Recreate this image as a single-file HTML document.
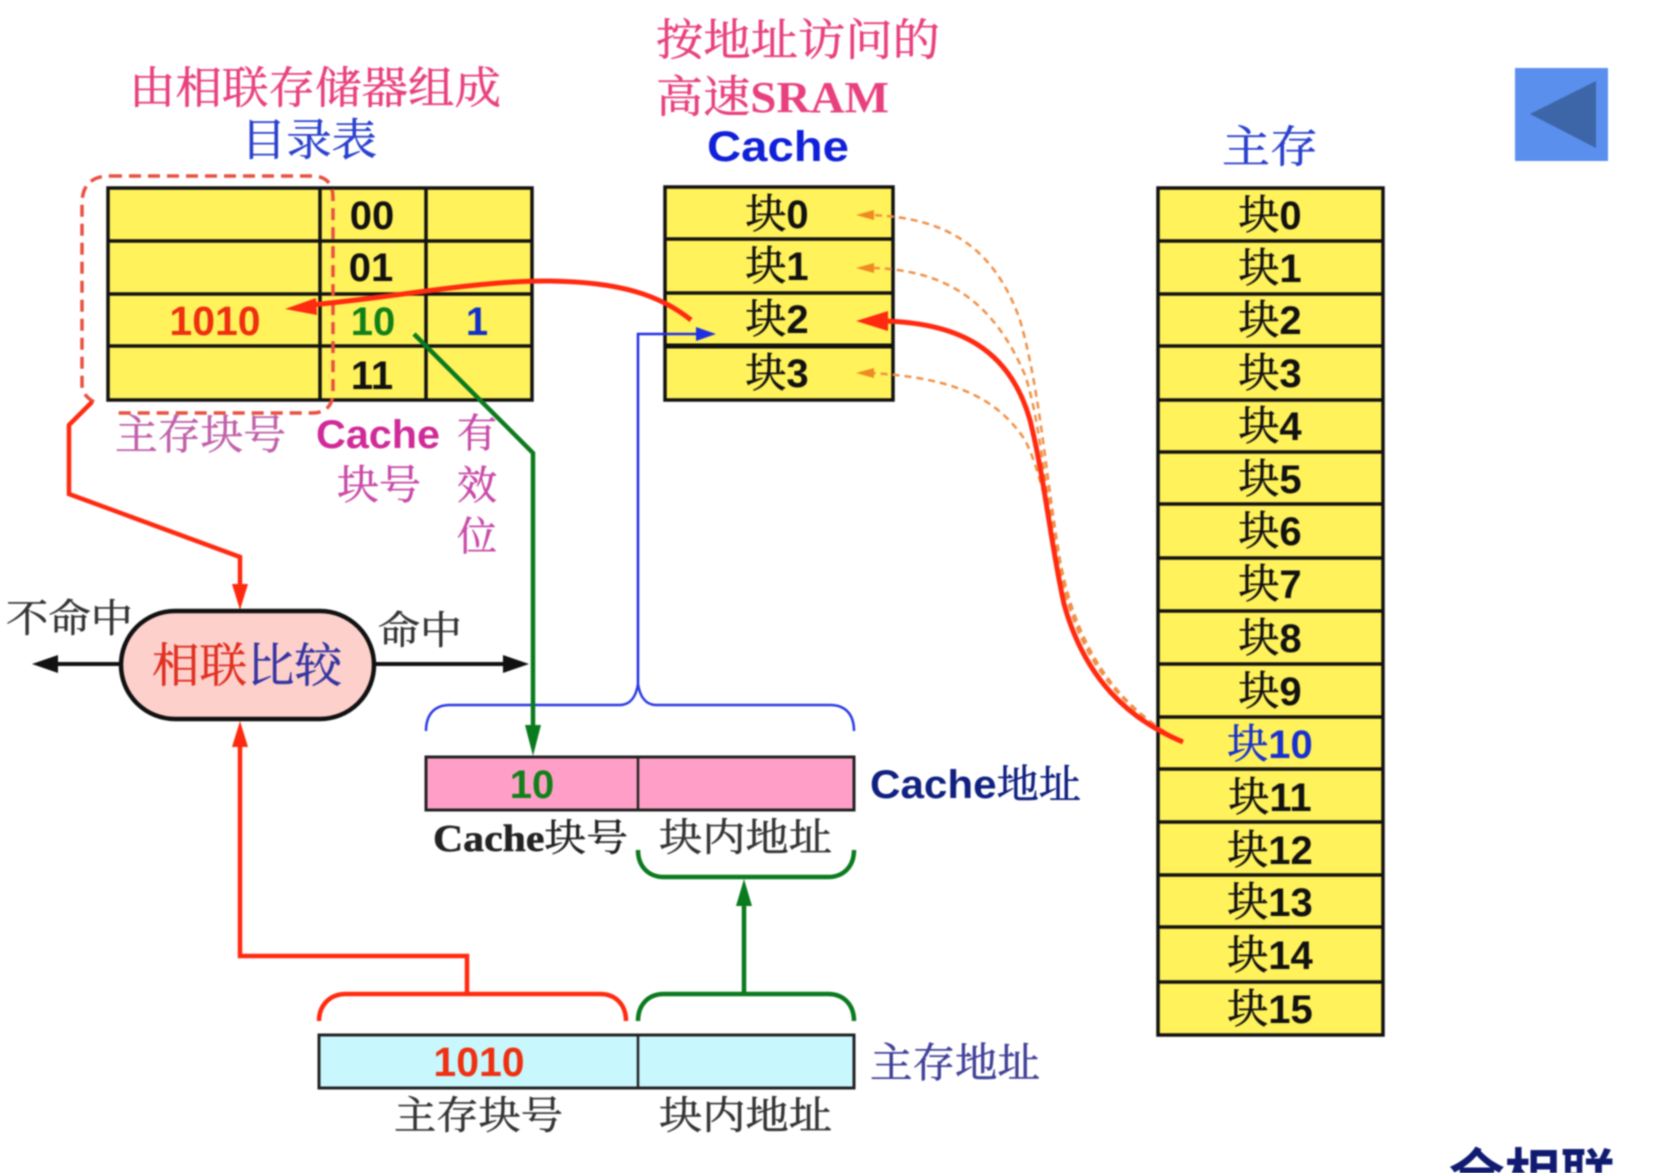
<!DOCTYPE html>
<html lang="zh"><head><meta charset="utf-8"><title>全相联</title>
<style>
html,body{margin:0;padding:0;background:#fff;width:1654px;height:1173px;overflow:hidden}
svg{display:block;filter:blur(.7px)}
.s{font-family:"Liberation Serif","Noto Serif CJK SC",serif;stroke-width:.5}
.h{font-family:"Liberation Sans","Noto Sans CJK SC",sans-serif;font-weight:700}
.k{font-family:"Liberation Serif","Noto Serif CJK SC",serif;font-weight:400;stroke:#111;stroke-width:.6}
.n{font-family:"Liberation Sans",sans-serif;font-weight:700}
</style></head><body>
<svg width="1654" height="1173" viewBox="0 0 1654 1173" xmlns="http://www.w3.org/2000/svg">
<rect width="1654" height="1173" fill="#fff"/>
<!-- button -->
<rect x="1515" y="68" width="93" height="93" fill="#5a8fee"/>
<polygon points="1530,114 1596,81 1596,148" fill="#3d66a8"/>
<!-- titles -->
<text class="s" x="129" y="103" font-size="44" fill="#e8407e" stroke="#e8407e" textLength="372" lengthAdjust="spacingAndGlyphs">由相联存储器组成</text>
<text class="s" x="241" y="155" font-size="44" fill="#2a40cc" stroke="#2a40cc" textLength="136" lengthAdjust="spacingAndGlyphs">目录表</text>
<text class="s" x="656" y="55" font-size="44" fill="#e8407e" stroke="#e8407e" textLength="284" lengthAdjust="spacingAndGlyphs">按地址访问的</text>
<text class="s" x="656" y="112" font-size="44" fill="#e8407e" stroke="#e8407e" textLength="233" lengthAdjust="spacingAndGlyphs">高速<tspan font-weight="700" stroke="none">SRAM</tspan></text>
<text class="n" x="707" y="161" font-size="43" fill="#1020d8" textLength="142" lengthAdjust="spacingAndGlyphs">Cache</text>
<text class="s" x="1222" y="162" font-size="44" fill="#2a40cc" stroke="#2a40cc" textLength="96" lengthAdjust="spacingAndGlyphs">主存</text>
<!-- directory table -->
<g fill="#fff25a" stroke="#111" stroke-width="3.5">
<rect x="108" y="188" width="424" height="212"/>
<path fill="none" d="M108 241H532M108 294H532M108 346H532M320 188V400M426 188V400"/>
</g>
<path d="M110 176H312Q333 176 333 198V391Q333 413 312 413H112M94 402Q82 395 82 385V204Q82 176 110 176" fill="none" stroke="#e85040" stroke-width="3.5" stroke-dasharray="12 7"/>
<g class="n" font-size="40" text-anchor="middle">
<text x="372" y="229" fill="#111">00</text>
<text x="371" y="281" fill="#111">01</text>
<text x="373" y="335" fill="#118018">10</text>
<text x="372" y="389" fill="#111">11</text>
<text x="215" y="335" fill="#ee3010" font-size="41">1010</text>
<text x="477" y="335" fill="#1030c8">1</text>
</g>
<!-- cache table -->
<g fill="#fff25a" stroke="#111" stroke-width="3.5">
<rect x="665" y="187" width="228" height="213"/>
<path fill="none" d="M665 239H893M665 293H893"/>
<path fill="none" stroke-width="5" d="M665 346H893"/>
</g>
<g text-anchor="middle" fill="#111">
<text x="777" y="228"><tspan class="k" font-size="41">块</tspan><tspan class="n" font-size="40">0</tspan></text>
<text x="777" y="280"><tspan class="k" font-size="41">块</tspan><tspan class="n" font-size="40">1</tspan></text>
<text x="777" y="333"><tspan class="k" font-size="41">块</tspan><tspan class="n" font-size="40">2</tspan></text>
<text x="777" y="387"><tspan class="k" font-size="41">块</tspan><tspan class="n" font-size="40">3</tspan></text>
</g>
<!-- main memory -->
<g fill="#fff25a" stroke="#111" stroke-width="3.5">
<rect x="1158" y="188" width="225" height="847"/>
<path fill="none" d="M1158 241H1383M1158 294H1383M1158 346H1383M1158 400H1383M1158 452H1383M1158 504H1383M1158 558H1383M1158 611H1383M1158 664H1383M1158 717H1383M1158 769H1383M1158 822H1383M1158 875H1383M1158 927H1383M1158 982H1383"/>
</g>
<g text-anchor="middle" fill="#111">
<text x="1270" y="229"><tspan class="k" font-size="41">块</tspan><tspan class="n" font-size="40">0</tspan></text>
<text x="1270" y="282"><tspan class="k" font-size="41">块</tspan><tspan class="n" font-size="40">1</tspan></text>
<text x="1270" y="334"><tspan class="k" font-size="41">块</tspan><tspan class="n" font-size="40">2</tspan></text>
<text x="1270" y="387"><tspan class="k" font-size="41">块</tspan><tspan class="n" font-size="40">3</tspan></text>
<text x="1270" y="440"><tspan class="k" font-size="41">块</tspan><tspan class="n" font-size="40">4</tspan></text>
<text x="1270" y="493"><tspan class="k" font-size="41">块</tspan><tspan class="n" font-size="40">5</tspan></text>
<text x="1270" y="545"><tspan class="k" font-size="41">块</tspan><tspan class="n" font-size="40">6</tspan></text>
<text x="1270" y="598"><tspan class="k" font-size="41">块</tspan><tspan class="n" font-size="40">7</tspan></text>
<text x="1270" y="652"><tspan class="k" font-size="41">块</tspan><tspan class="n" font-size="40">8</tspan></text>
<text x="1270" y="705"><tspan class="k" font-size="41">块</tspan><tspan class="n" font-size="40">9</tspan></text>
<text x="1270" y="758" fill="#1830d0"><tspan class="k" font-size="41" style="stroke:#1830d0">块</tspan><tspan class="n" font-size="40">10</tspan></text>
<text x="1270" y="811"><tspan class="k" font-size="41">块</tspan><tspan class="n" font-size="40">11</tspan></text>
<text x="1270" y="864"><tspan class="k" font-size="41">块</tspan><tspan class="n" font-size="40">12</tspan></text>
<text x="1270" y="916"><tspan class="k" font-size="41">块</tspan><tspan class="n" font-size="40">13</tspan></text>
<text x="1270" y="969"><tspan class="k" font-size="41">块</tspan><tspan class="n" font-size="40">14</tspan></text>
<text x="1270" y="1023"><tspan class="k" font-size="41">块</tspan><tspan class="n" font-size="40">15</tspan></text>
</g>
<!-- labels under table -->
<text class="s" x="115" y="449" font-size="41" fill="#c060a8" stroke="#c060a8" textLength="171" lengthAdjust="spacingAndGlyphs">主存块号</text>
<text class="n" x="316" y="448" font-size="40" fill="#d02a98" textLength="124" lengthAdjust="spacingAndGlyphs">Cache</text>
<text class="s" x="337" y="499" font-size="41" fill="#c84aa8" stroke="#c84aa8" textLength="84" lengthAdjust="spacingAndGlyphs">块号</text>
<g class="s" font-size="40" fill="#c84aa8" stroke="#c84aa8">
<text x="457" y="447">有</text><text x="457" y="499">效</text><text x="457" y="550">位</text>
</g>
<!-- orange dashed curves -->
<g fill="none" stroke="#f09048" stroke-width="2.5" stroke-dasharray="7 5">
<path d="M1175 738C1110 700 1075 640 1060 560C1045 470 1040 390 1020 320C995 250 950 218 872 215"/>
<path d="M1175 738C1110 700 1075 640 1060 570C1045 490 1040 420 1025 375C995 305 950 270 872 268"/>
<path d="M1175 738C1110 700 1078 650 1062 580C1048 510 1040 470 1025 440C995 395 950 378 872 373"/>
</g>
<g fill="#f08a20">
<polygon points="856,215 874,210 874,220"/>
<polygon points="856,268 874,263 874,273"/>
<polygon points="856,373 874,368 874,378"/>
</g>
<!-- main red curve -->
<path d="M1183 742C1130 720 1085 680 1064 604C1050 540 1045 480 1030 420C1010 350 960 322 880 321" fill="none" stroke="#ff2a10" stroke-width="5"/>
<polygon points="856,321 888,311 888,331" fill="#ff2a10"/>
<!-- red curve cache->dir -->
<path d="M691 320C660 295 620 282 550 281C480 280 390 298 310 305" fill="none" stroke="#ff2a10" stroke-width="5"/>
<polygon points="285,309 316,298 317,315" fill="#ff2a10"/>
<!-- blue -->
<path d="M638 684V334H700" fill="none" stroke="#2030e0" stroke-width="2.5"/>
<polygon points="716,334 696,327 696,341" fill="#2030e0"/>
<path d="M426 731C426 715 434 705 450 705H620C630 705 636 697 638 684C640 697 646 705 656 705H830C846 705 854 715 854 731" fill="none" stroke="#2a3ae0" stroke-width="2.5"/>
<!-- green -->
<path d="M414 334L533 453V730" fill="none" stroke="#0a7a1e" stroke-width="4.5"/>
<polygon points="533,756 525,725 541,725" fill="#0a7a1e"/>
<!-- red to oval top -->
<path d="M92 402L69 425V494L240 557V590" fill="none" stroke="#ff2a10" stroke-width="4.5"/>
<polygon points="240,610 232,584 248,584" fill="#ff2a10"/>
<!-- black arrows -->
<path d="M50 664H125M372 664H510" fill="none" stroke="#111" stroke-width="4"/>
<polygon points="32,664 58,655 58,673" fill="#111"/>
<polygon points="529,664 503,655 503,673" fill="#111"/>
<!-- oval -->
<rect x="121" y="611" width="253" height="108" rx="54" ry="54" fill="#fdd0cc" stroke="#111" stroke-width="4.5"/>
<text class="s" x="152" y="682" font-size="47" textLength="190" lengthAdjust="spacingAndGlyphs" stroke-width="1"><tspan fill="#e03020" stroke="#e03020">相联</tspan><tspan fill="#3434a0" stroke="#3434a0">比较</tspan></text>
<text class="s" x="6" y="632" font-size="39" fill="#333" stroke="#333" textLength="127" lengthAdjust="spacingAndGlyphs">不命中</text>
<text class="s" x="378" y="644" font-size="39" fill="#333" stroke="#333" textLength="84" lengthAdjust="spacingAndGlyphs">命中</text>
<!-- cache address -->
<rect x="426" y="757" width="428" height="53" fill="#ff9fc8" stroke="#222" stroke-width="3"/>
<path d="M638 757V810" stroke="#222" stroke-width="2.5"/>
<text class="n" x="532" y="798" font-size="40" fill="#118018" text-anchor="middle">10</text>
<text class="s" x="433" y="851" font-size="38" fill="#222" stroke="#222" textLength="195" lengthAdjust="spacingAndGlyphs"><tspan font-weight="700">Cache</tspan>块号</text>
<text class="s" x="659" y="851" font-size="39" fill="#333" stroke="#333" textLength="173" lengthAdjust="spacingAndGlyphs">块内地址</text>
<text x="870" y="798" fill="#102080" textLength="211" lengthAdjust="spacingAndGlyphs"><tspan class="n" font-size="40">Cache</tspan><tspan class="k" font-size="40" style="stroke:#102080">地址</tspan></text>
<!-- green braces -->
<path d="M638 850C638 866 648 877 664 877H828C844 877 854 866 854 850" fill="none" stroke="#0a7a1e" stroke-width="4.5"/>
<path d="M638 1021C638 1005 648 994 664 994H828C844 994 854 1005 854 1021" fill="none" stroke="#0a7a1e" stroke-width="4.5"/>
<path d="M744 994V900" stroke="#0a7a1e" stroke-width="4.5"/>
<polygon points="744,879 736,906 752,906" fill="#0a7a1e"/>
<!-- red brace + line -->
<path d="M319 1021C319 1005 330 994 346 994H600C616 994 626 1005 626 1021" fill="none" stroke="#ff2a10" stroke-width="4.5"/>
<path d="M467 994V956H240V740" fill="none" stroke="#ff2a10" stroke-width="4.5"/>
<polygon points="240,721 232,747 248,747" fill="#ff2a10"/>
<!-- main memory address -->
<rect x="319" y="1035" width="535" height="53" fill="#c8f8fd" stroke="#222" stroke-width="3"/>
<path d="M638 1035V1088" stroke="#222" stroke-width="2.5"/>
<text class="n" x="479" y="1076" font-size="41" fill="#ee3010" text-anchor="middle">1010</text>
<text class="s" x="394" y="1129" font-size="39" fill="#333" stroke="#333" textLength="169" lengthAdjust="spacingAndGlyphs">主存块号</text>
<text class="s" x="659" y="1129" font-size="39" fill="#333" stroke="#333" textLength="173" lengthAdjust="spacingAndGlyphs">块内地址</text>
<text class="s" x="870" y="1077" font-size="41" fill="#404098" stroke="#404098" textLength="170" lengthAdjust="spacingAndGlyphs">主存地址</text>
<!-- corner -->
<text class="h" x="1449" y="1195" font-size="56" fill="#101a70" textLength="167" lengthAdjust="spacingAndGlyphs">全相联</text>
</svg>
</body></html>
